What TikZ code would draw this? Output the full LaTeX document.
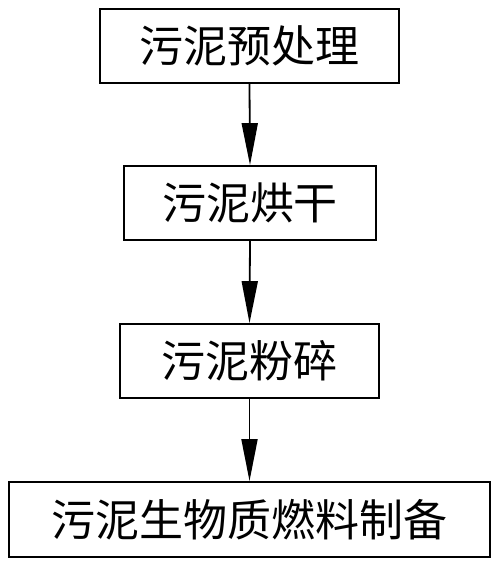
\documentclass[tikz,border=0pt]{standalone}
\usepackage{fontspec}
\setmainfont{Noto Sans CJK SC}
\usetikzlibrary{arrows.meta}
\begin{document}
\begin{tikzpicture}[x=1pt,y=-1pt,
  box/.style={draw, line width=1.8pt, inner sep=0pt, font=\fontsize{44}{44}\selectfont},
  arr/.style={line width=1.8pt, -{Triangle[length=42pt,width=16pt]}}]
\useasboundingbox (0,0) rectangle (500,566);
\node[box, minimum width=299pt, minimum height=74pt] (a) at (249.5,46) {污泥预处理};
\node[box, minimum width=252pt, minimum height=74pt] (b) at (250,203) {污泥烘干};
\node[box, minimum width=259pt, minimum height=74pt] (c) at (249.5,361) {污泥粉碎};
\node[box, minimum width=481pt, minimum height=75pt] (d) at (249.5,519.5) {污泥生物质燃料制备};
\draw[arr] (a.south) -- (b.north);
\draw[arr] (b.south) -- (c.north);
\draw[arr] (c.south) -- (d.north);
\end{tikzpicture}
\end{document}
